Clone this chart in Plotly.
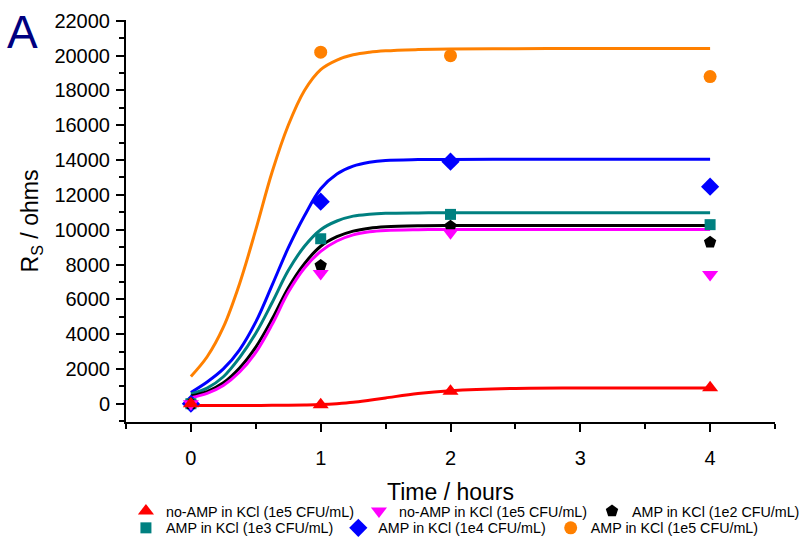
import plotly.graph_objects as go

# ---- data ----
time_h = [0, 1, 2, 4]
names = [
    "no-AMP in KCl (1e5 CFU/mL)",
    "no-AMP in KCl (1e5 CFU/mL)",
    "AMP in KCl (1e2 CFU/mL)",
    "AMP in KCl (1e3 CFU/mL)",
    "AMP in KCl (1e4 CFU/mL)",
    "AMP in KCl (1e5 CFU/mL)",
]
red_vals = [0, -60, 710, 920]
magenta_vals = [0, 7480, 9820, 7420]
black_vals = [0, 7940, 10200, 9280]
teal_vals = [0, 9480, 10880, 10290]
blue_vals = [0, 11610, 13910, 12470]
orange_vals = [0, 20200, 20000, 18800]

# fitted curves at these times
fit_x = [0, 0.125, 0.25, 0.375, 0.5, 0.625, 0.75, 0.875, 1.0, 1.125, 1.25, 1.375, 1.5,
         1.75, 2.0, 2.5, 3.0, 3.5, 4.0]
orange_fit = [1570, 2700, 4400, 6900, 10000, 13300, 16000, 18000, 19200, 19750, 20050, 20200, 20280,
              20350, 20390, 20405, 20410, 20410, 20410]
blue_fit = [650, 1250, 2000, 3100, 4700, 6800, 8950, 10800, 12350, 13200, 13650, 13870, 13980,
            14030, 14040, 14045, 14045, 14045, 14045]
teal_fit = [560, 900, 1550, 2650, 4050, 5800, 7650, 9050, 10000, 10500, 10780, 10890, 10940,
            10965, 10970, 10972, 10972, 10972, 10972]
black_fit = [450, 700, 1200, 2050, 3250, 4850, 6650, 8050, 9050, 9600, 9920, 10090, 10170,
             10225, 10240, 10245, 10245, 10245, 10245]
magenta_fit = [350, 600, 1050, 1820, 2950, 4550, 6400, 7800, 8750, 9350, 9700, 9880, 9960,
               10000, 10010, 10012, 10012, 10012, 10012]
red_fit = [-100, -100, -100, -100, -98, -94, -85, -70, -45, 5, 80, 200, 330,
           590, 750, 880, 900, 905, 905]

x_ticks = [0, 1, 2, 3, 4]
y_ticks = list(range(0, 22001, 2000))

colors = ["#FF0000", "#FF00FF", "#000000", "#008080", "#0000FF", "#FF8000"]
symbols = ["triangle-up", "triangle-down", "pentagon", "square", "diamond", "circle"]
sizes = [14, 14, 13, 11, 14, 13]

vals = [red_vals, magenta_vals, black_vals, teal_vals, blue_vals, orange_vals]
fits = [red_fit, magenta_fit, black_fit, teal_fit, blue_fit, orange_fit]

fig = go.Figure()

# fit lines
for i in [5, 4, 3, 2, 1, 0]:
    fig.add_trace(go.Scatter(
        x=fit_x, y=fits[i], mode="lines",
        line=dict(color=colors[i], width=3, shape="spline", smoothing=1.0),
        showlegend=False, hoverinfo="skip",
    ))

# data points (drawn so red is on top)
for i in [5, 4, 3, 2, 1, 0]:
    fig.add_trace(go.Scatter(
        x=time_h, y=vals[i], mode="markers", name=names[i],
        marker=dict(color=colors[i], symbol=symbols[i], size=sizes[i], line=dict(width=0)),
        legend="legend" if i < 3 else "legend2",
        legendrank=i + 1,
    ))

font_family = "Liberation Sans, Arial, sans-serif"

axis_common = dict(
    showline=True, linecolor="black", linewidth=2, mirror=False,
    ticks="outside", ticklen=8, tickwidth=2, tickcolor="black",
    showgrid=False, zeroline=False, automargin=False,
    tickfont=dict(family=font_family, size=20, color="black"),
)

legend_font = dict(family=font_family, size=14.3, color="black")

fig.update_layout(
    width=804, height=538,
    margin=dict(l=126, r=29, t=20, b=116, autoexpand=False),
    paper_bgcolor="white", plot_bgcolor="white",
    font=dict(family=font_family, color="black"),
    xaxis=dict(
        range=[-0.5, 4.5], tickvals=x_ticks, ticktext=[str(t) for t in x_ticks],
        minor=dict(dtick=0.5, tick0=-0.5, ticks="outside", ticklen=5, tickwidth=2, tickcolor="black"),
        title=dict(text="Time / hours", font=dict(family=font_family, size=23, color="black"), standoff=16),
        ticklabelstandoff=9,
        **axis_common,
    ),
    yaxis=dict(
        range=[-1050, 22050], tickvals=y_ticks, ticktext=[str(t) for t in y_ticks],
        minor=dict(dtick=1000, tick0=-1000, ticks="outside", ticklen=5, tickwidth=2, tickcolor="black"),
        title=dict(text="R<sub>S</sub> / ohms", font=dict(family=font_family, size=23, color="black"), standoff=9),
        ticklabelstandoff=2,
        **axis_common,
    ),
    legend=dict(
        orientation="h", x=-0.0001, xanchor="left", y=-0.182, yanchor="top",
        font=legend_font, bgcolor="rgba(0,0,0,0)", traceorder="normal",
    ),
    legend2=dict(
        orientation="h", x=-0.0001, xanchor="left", y=-0.224, yanchor="top",
        font=legend_font, bgcolor="rgba(0,0,0,0)", traceorder="normal",
    ),
    annotations=[dict(
        text="A", xref="paper", yref="paper", x=-0.186, y=1.04, xanchor="left", yanchor="top",
        showarrow=False, font=dict(family=font_family, size=46, color="#000080"),
    )],
)

fig.write_html(
    "out.html",
    config={"displayModeBar": False},
    post_script="document.body.style.margin='0';document.body.style.padding='0';",
)
